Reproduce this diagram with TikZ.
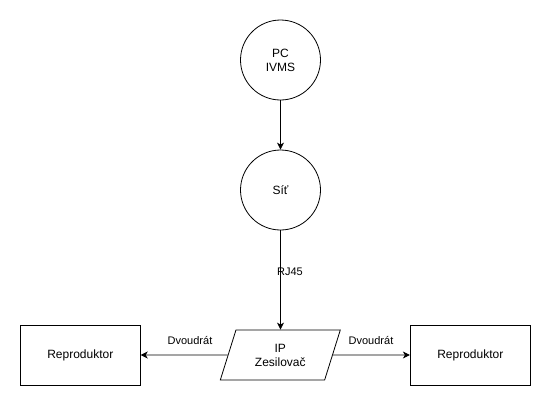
\documentclass[tikz,border=0pt]{standalone}
\usepackage{fontspec}
\setmainfont{Liberation Sans}
\usetikzlibrary{shapes.geometric,arrows.meta}
\begin{document}
\begin{tikzpicture}[x=1pt,y=-1pt,
  every node/.style={font=\fontsize{12}{14}\selectfont, align=center, inner sep=0pt},
  circ/.style={circle, draw, line width=0.8pt, minimum size=80pt},
  box/.style={rectangle, draw, line width=0.8pt, minimum width=120pt, minimum height=60pt},
  para/.style={trapezium, draw, line width=0.8pt, trapezium left angle=68.2, trapezium right angle=111.8, trapezium stretches=true, minimum width=120.7pt, minimum height=50pt},
  conn/.style={line width=0.8pt, -{Stealth[length=7pt,width=7pt,inset=2pt]}},
  lbl/.style={font=\fontsize{11}{13}\selectfont, inner sep=1pt}
]
\useasboundingbox (0,0) rectangle (551,407);
\node[circ] (pc) at (280.5,60) {PC\\IVMS};
\node[circ] (sit) at (280.5,190) {Síť};
\node[para] (amp) at (280.3,355) {IP\\Zesilovač};
\node[box] (left) at (80.3,355) {Reproduktor};
\node[box] (right) at (470.3,355) {Reproduktor};
\draw[conn] (pc) -- (sit);
\draw[conn] (sit.south) -- (sit.south |- amp.north);
\node[lbl] (rj) at (290,272) {RJ45};
\draw[conn] (amp.west) -- (left.east);
\draw[conn] (amp.east) -- (right.west);
\node[lbl] (d1) at (190,340) {Dvoudrát};
\node[lbl] (d2) at (371,340) {Dvoudrát};
\end{tikzpicture}
\end{document}
